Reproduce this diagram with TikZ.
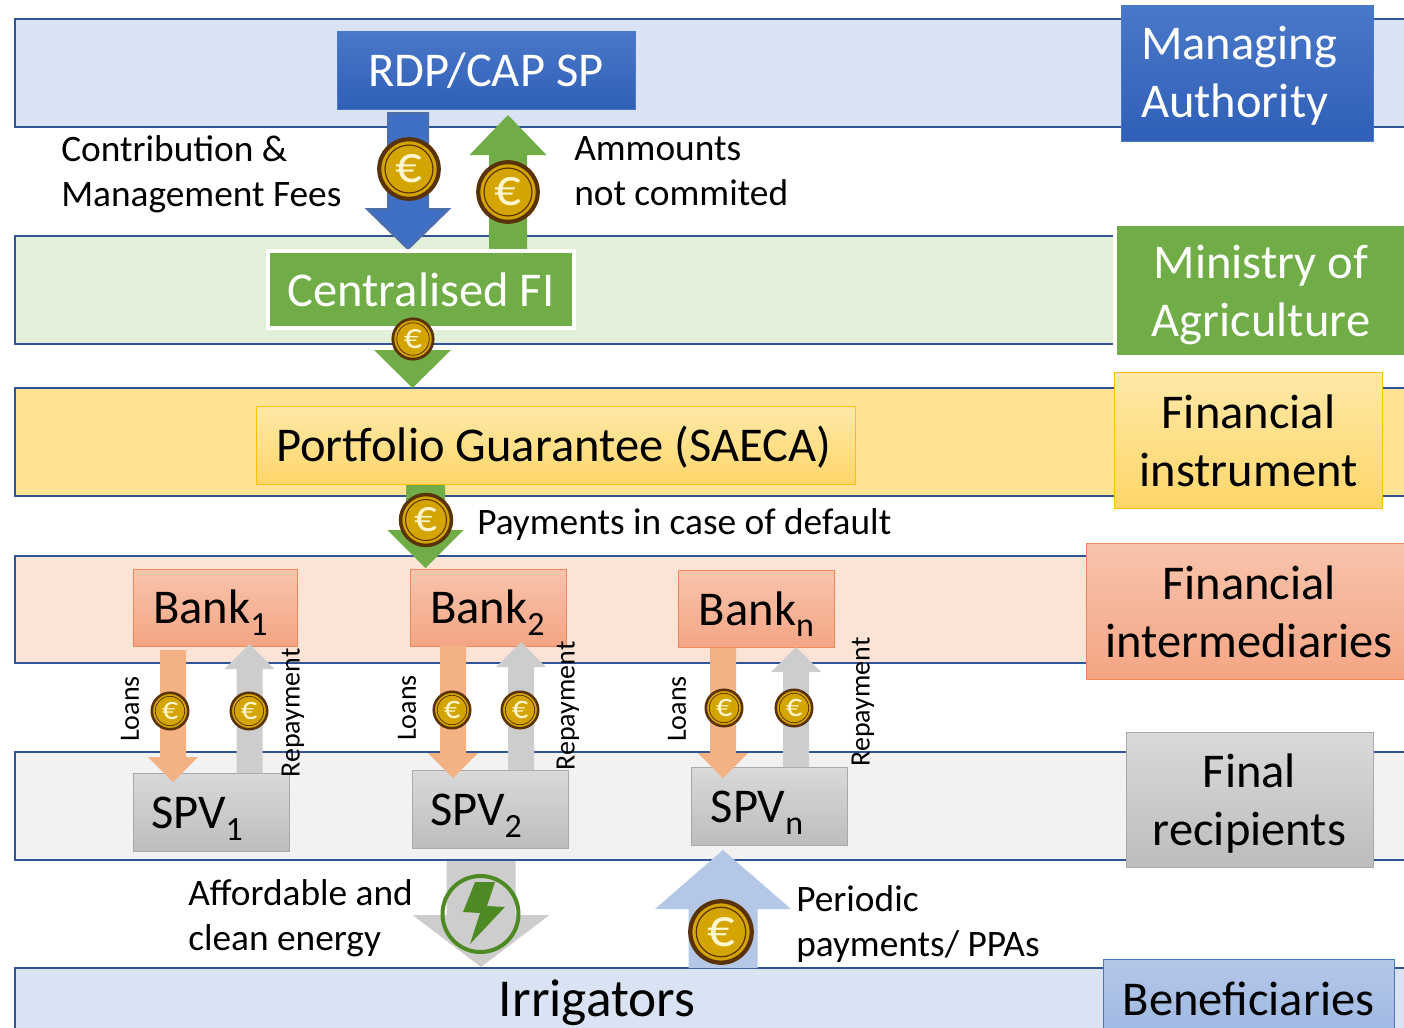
\documentclass[tikz,border=0pt]{standalone}
\usepackage{fontspec}
\setmainfont{Carlito}
\usetikzlibrary{calc}

\definecolor{BandBlue}{HTML}{D9E3F3}
\definecolor{BandGreen}{HTML}{E2EFD9}
\definecolor{BandYellow}{HTML}{FFE294}
\definecolor{BandOrange}{HTML}{FBE4D6}
\definecolor{BandGrey}{HTML}{F2F2F2}
\definecolor{BandLine}{HTML}{2F5597}
\definecolor{BlueTop}{HTML}{4A78C8}
\definecolor{BlueBottom}{HTML}{2F5FB8}
\definecolor{BlueArrow}{HTML}{3F6FC4}
\definecolor{GreenBox}{HTML}{70AD47}
\definecolor{OrangeArrow}{HTML}{F4B183}
\definecolor{GreyArrow}{HTML}{CDCDCD}
\definecolor{PaleBlue}{HTML}{B4C7E7}
\definecolor{BenBottom}{HTML}{9DB8E4}
\definecolor{CoinGold}{HTML}{D4A500}
\definecolor{CoinDark}{HTML}{5A3208}
\definecolor{CoinText}{HTML}{FFF6CF}
\definecolor{BoltGreen}{HTML}{4E8A24}
\definecolor{OrangeTop}{HTML}{F8C4AC}
\definecolor{OrangeBottom}{HTML}{F4A584}
\definecolor{OrangeBorder}{HTML}{F4875A}
\definecolor{GreyTop}{HTML}{D9D9D9}
\definecolor{GreyBottom}{HTML}{BDBDBD}
\definecolor{GreyBorder}{HTML}{A9A9A9}
\definecolor{YellowTop}{HTML}{FFE9A8}
\definecolor{YellowBottom}{HTML}{FFD669}
\definecolor{YellowBorder}{HTML}{FFC000}

\newcommand{\sbs}[1]{\raisebox{-0.24em}{\scalebox{0.7}{#1}}}
\newcommand{\dn}[3][c]{\raisebox{#2}[\height][\depth]{\begin{tabular}{@{}#1@{}}#3\end{tabular}}}
\newcommand{\coin}[3]{% name, centre, diameter in px
\pgfmathsetmacro{\coinfs}{#3*0.64}
\node[circle, draw=CoinDark, fill=CoinGold, inner sep=0pt, line width=#3*0.05pt, minimum size=#3*0.72pt] (#1) at (#2) {};
\node[circle, draw=CoinDark, inner sep=0pt, line width=#3*0.014pt, minimum size=#3*0.58pt, text=CoinText, font=\fontsize{\coinfs}{\coinfs}\selectfont] at (#1) {€};}

\tikzset{
  sizepx/.style 2 args={minimum width=#1*0.75pt, minimum height=#2*0.75pt},
  band/.style={draw=BandLine, line width=2.2pt, inner sep=0pt},
  boxtext/.style={inner sep=0pt, align=center, font=\fontsize{36.4}{43.5}\selectfont},
  toptext/.style={boxtext, text=white},
  lbltext/.style={inner sep=0pt, anchor=west, align=left, font=\fontsize{28}{33.75}\selectfont},
  sidelabel/.style={inner sep=0pt, rotate=90, font=\fontsize{21}{22}\selectfont},
  blockto/.style n args={3}{to path={
    -- ($(\tikztostart)!#1*0.75pt!90:(\tikztotarget)$)
    -- ($(\tikztotarget)!#3*0.75pt!(\tikztostart)!#1*0.75pt!90:(\tikztotarget)$)
    -- ($(\tikztotarget)!#3*0.75pt!(\tikztostart)!#2*0.75pt!90:(\tikztotarget)$)
    -- (\tikztotarget)
    -- ($(\tikztotarget)!#3*0.75pt!(\tikztostart)!#2*0.75pt!-90:(\tikztotarget)$)
    -- ($(\tikztotarget)!#3*0.75pt!(\tikztostart)!#1*0.75pt!-90:(\tikztotarget)$)
    -- ($(\tikztostart)!#1*0.75pt!-90:(\tikztotarget)$)
    -- cycle}},
  bankbox/.style={boxtext, sizepx={156}{77}, draw=OrangeBorder, line width=0.6pt, top color=OrangeTop, bottom color=OrangeBottom},
  spvbox/.style={boxtext, sizepx={156}{78}, draw=GreyBorder, line width=0.6pt, top color=GreyTop, bottom color=GreyBottom},
}

\begin{document}
\begin{tikzpicture}[x=0.75pt,y=-0.75pt,node distance=204.75pt]
\useasboundingbox (0,0) rectangle (1404,1028);
\clip (0,0) rectangle (1404,1028);

% bands
\node[band, sizepx={1420}{108}, fill=BandBlue] (bandRDP) at (725,73) {};
\node[band, sizepx={1110}{108}, fill=BandGreen] (bandFI) at (570,290) {};
\node[band, sizepx={1420}{108}, fill=BandYellow] (bandSAECA) at (725,442) {};
\node[band, sizepx={1420}{107}, fill=BandOrange] (bandBank) at (725,609.5) {};
\node[band, sizepx={1420}{108}, fill=BandGrey] (bandSPV) at (725,806) {};
\node[band, sizepx={1420}{108}, fill=BandBlue] (bandIrr) at (725,1022) {};

% boxes on the right
\node[toptext, sizepx={252}{136}, draw=BlueTop, line width=0.6pt, top color=BlueTop, bottom color=BlueBottom] (boxMA) at (1247,73) {\hspace*{-12pt}\dn[l]{-3.2pt}{Managing\\Authority}};
\node[toptext, sizepx={292}{132}, draw=white, line width=2.8pt, fill=GreenBox] (boxMoA) at (1261,290.5) {\dn{-4pt}{Ministry of\\Agriculture}};
\node[boxtext, sizepx={268}{136}, draw=YellowBorder, line width=0.6pt, top color=YellowTop, bottom color=YellowBottom] (boxFin) at (1248.5,440) {\dn{-4.5pt}{Financial\\instrument}};
\node[boxtext, sizepx={318}{136}, draw=OrangeBorder, line width=0.6pt, top color=OrangeTop, bottom color=OrangeBottom] (boxInt) at (1245,611) {\hspace*{6pt}\dn{-4.5pt}{Financial\\intermediaries}};
\node[boxtext, sizepx={247}{135}, draw=GreyBorder, line width=0.6pt, top color=GreyTop, bottom color=GreyBottom] (boxFR) at (1249.5,799.5) {\dn{-4pt}{Final\\recipients}};
\node[boxtext, sizepx={291}{80}, draw=BlueTop, line width=0.6pt, top color=PaleBlue, bottom color=BenBottom] (boxBen) at (1248.5,999) {Beneficiaries};

% arrows that run behind the boxes
\coordinate (rdpout) at (408,113);
\coordinate (cfiin) at (408,249);
\coordinate (cfiback) at (508,250);
\coordinate (rdpback) at (508,115);
\coordinate (cfiout) at (412.5,320);
\coordinate (saecain) at (412.5,388);
\coordinate (saecaout) at (425.5,484);
\coordinate (bankin) at (425.5,568);

\filldraw[fill=BlueArrow, draw=BandLine!85!white, line width=1.5pt] (rdpout) to[blockto={20}{41}{40}] (cfiin);
\fill[GreenBox] (cfiback) to[blockto={19}{38.5}{40}] (rdpback);
\fill[GreenBox] (cfiout) to[blockto={19}{38.5}{38}] (saecain);
\fill[GreenBox] (saecaout) to[blockto={19.5}{38}{38}] (bankin);

% main boxes
\node[toptext, sizepx={298}{78}, draw=BlueTop, line width=0.6pt, top color=BlueTop, bottom color=BlueBottom] (rdp) at (486,70) {\dn{-3.7pt}{RDP/CAP SP}};
\node[toptext, sizepx={306}{77}, draw=white, line width=2.8pt, fill=GreenBox] (cfi) at (421,289.5) {Centralised FI};
\node[boxtext, sizepx={599}{78}, draw=YellowBorder, line width=0.6pt, top color=YellowTop, bottom color=YellowBottom] (saeca) at (555.5,445) {\dn{-3.8pt}{Portfolio Guarantee (SAECA)}\hspace*{3pt}};

% banks and SPVs
\node[bankbox, sizepx={164}{77}] (bank1) at (215,607.5) {\dn{-3.5pt}{Bank\sbs{1}}\hspace*{7pt}};
\node[bankbox] (bank2) [right of=bank1] {\dn{-3.5pt}{Bank\sbs{2}}\hspace*{1pt}};
\node[bankbox] (bankn) at (756.5,609) {\dn{-3.5pt}{Bank\sbs{n}}};
\node[spvbox] (spv1) at (211,812) {\dn{-4pt}{SPV\sbs{1}}\hspace*{21pt}};
\node[spvbox] (spv2) at (490,809) {\dn{-4pt}{SPV\sbs{2}}\hspace*{21pt}};
\node[spvbox] (spvn) at (769,806) {\dn{-4pt}{SPV\sbs{n}}\hspace*{18pt}};

% loans and repayments
\coordinate (l1a) at (173,650); \coordinate (l1b) at (173,782);
\coordinate (r1a) at (249.5,773); \coordinate (r1b) at (249.5,644);
\coordinate (l2a) at (453,646); \coordinate (l2b) at (453,778);
\coordinate (r2a) at (521,770); \coordinate (r2b) at (521,642);
\coordinate (lna) at (723,648); \coordinate (lnb) at (723,778);
\coordinate (rna) at (796,767); \coordinate (rnb) at (796,647);

\fill[OrangeArrow] (l1a) to[blockto={13}{25}{25}] (l1b);
\fill[OrangeArrow] (l2a) to[blockto={13}{25}{25}] (l2b);
\fill[OrangeArrow] (lna) to[blockto={13}{25}{25}] (lnb);
\fill[GreyArrow] (r1a) to[blockto={13}{25}{25}] (r1b);
\fill[GreyArrow] (r2a) to[blockto={13}{25}{25}] (r2b);
\fill[GreyArrow] (rna) to[blockto={13}{25}{25}] (rnb);

% energy and payments
\coordinate (spvout) at (481,861);
\coordinate (irrin) at (481,967);
\coordinate (irrout) at (723,968);
\coordinate (spvin) at (723,850);
\fill[GreyArrow] (spvout) to[blockto={34.5}{68.5}{52}] (irrin);
\fill[PaleBlue] (irrout) to[blockto={34.5}{68}{59}] (spvin);

\node[circle, draw=BoltGreen, line width=3pt, inner sep=0pt, minimum size=57pt] (energy) at (480.5,914) {};
\fill[BoltGreen] (475,882) -- (495,882) -- (487,906) -- (505,907) -- (470,944) -- (480,913) -- (463,912) -- cycle;

% coins
\coin{coinA}{409,169}{62}
\coin{coinB}{508,192}{62}
\coin{coinC}{413,339}{42}
\coin{coinD}{426,520}{53}
\coin{coinE}{170,711}{38}
\coin{coinF}{249,711}{38}
\coin{coinG}{452,710}{38}
\coin{coinH}{520,710}{38}
\coin{coinI}{724,708}{38}
\coin{coinJ}{794,708}{38}
\coin{coinK}{721,932}{64}

% labels
\node[lbltext] (lblContr) at (61,174) {Contribution \&\\Management Fees};
\node[lbltext] (lblAmm) at (574,171) {Ammounts\\not commited};
\node[lbltext] (lblDef) at (477,525) {Payments in case of default};
\node[lbltext] (lblEnergy) at (188,918) {Affordable and\\clean energy};
\node[lbltext] (lblPay) at (796,924) {Periodic\\payments/ PPAs};
\node[boxtext, font=\fontsize{40}{44}\selectfont] (irr) at (597,1003) {Irrigators};

\node[sidelabel] (loan1) at (130,709) {Loans};
\node[sidelabel] (rep1) at (293,713) {Repayment};
\node[sidelabel] (loan2) at (407,708) {Loans};
\node[sidelabel] (rep2) at (568,706) {Repayment};
\node[sidelabel] (loann) at (677,709) {Loans};
\node[sidelabel] (repn) at (863,702) {Repayment};
\end{tikzpicture}
\end{document}
